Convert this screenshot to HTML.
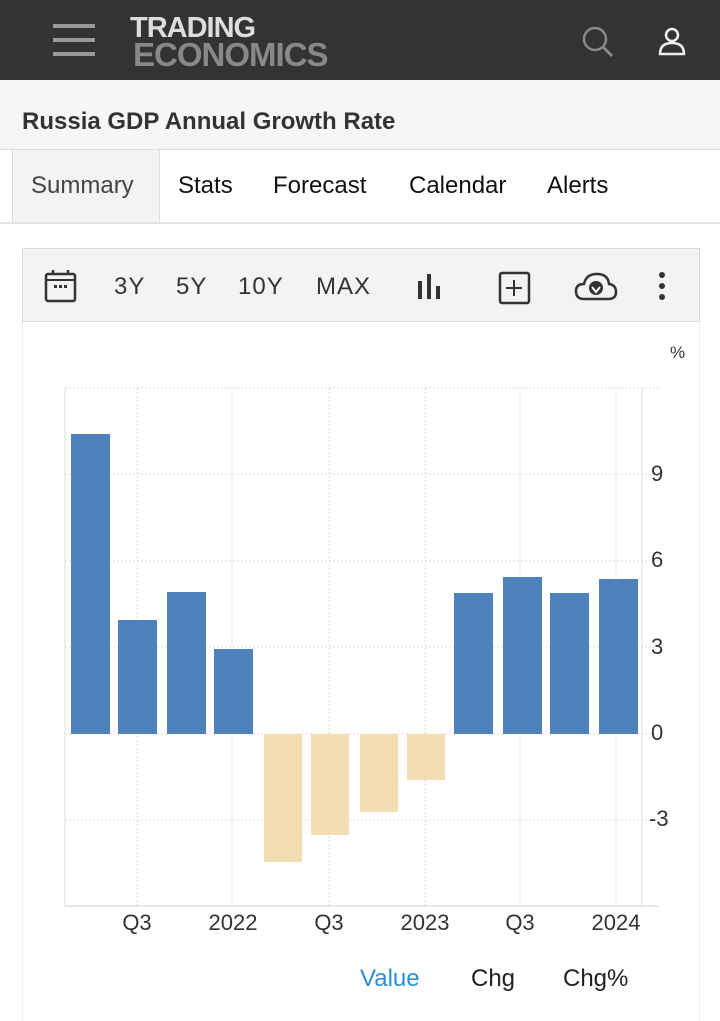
<!DOCTYPE html>
<html><head><style>
*{margin:0;padding:0;box-sizing:border-box}
body{width:720px;height:1021px;background:#fff;font-family:"Liberation Sans",sans-serif;position:relative;overflow:hidden;color:#222}
.hdr{position:absolute;left:0;top:0;width:720px;height:80px;background:#333}
.sub{position:absolute;left:0;top:80px;width:720px;height:70px;background:#f6f6f6;border-bottom:1px solid #ddd}
.tabs{position:absolute;left:0;top:150px;width:720px;height:74px;border-bottom:2px solid #e2e2e2}
.tab{position:absolute;top:0;height:72px;line-height:72px;font-size:24px;color:#111}
.tb{position:absolute;left:22px;top:248px;width:678px;height:74px;background:#f3f3f3;border:1px solid #ddd}
.tbt{position:absolute;top:24px;font-size:24px;color:#333;letter-spacing:1px}
.panel{position:absolute;left:22px;top:322px;width:678px;height:699px;border-left:1px solid #eee;border-right:1px solid #eee}
</style></head><body>
<div class="hdr">
 <div style="position:absolute;left:53px;top:24px;width:42px;height:4px;background:#999"></div>
 <div style="position:absolute;left:53px;top:38px;width:42px;height:4px;background:#999"></div>
 <div style="position:absolute;left:53px;top:52px;width:42px;height:4px;background:#999"></div>
 <div style="position:absolute;left:130px;top:13px;font-size:29px;font-weight:bold;color:#ddd;line-height:30px;letter-spacing:-1px">TRADING</div>
 <div style="position:absolute;left:133px;top:38px;font-size:33px;font-weight:bold;color:#888;line-height:34px;letter-spacing:-1px">ECONOMICS</div>
 <svg style="position:absolute;left:580px;top:24px" width="36" height="36"><circle cx="15" cy="15" r="11" fill="none" stroke="#888" stroke-width="2.5"/><line x1="23" y1="23" x2="32" y2="32" stroke="#888" stroke-width="3"/></svg>
 <svg style="position:absolute;left:655px;top:26px" width="34" height="34"><circle cx="17" cy="9" r="6" fill="none" stroke="#eee" stroke-width="2.5"/><path d="M5 28 Q5 17 17 17 Q29 17 29 28 Z" fill="none" stroke="#eee" stroke-width="2.5"/></svg>
</div>
<div class="sub"><div style="position:absolute;left:22px;top:28px;font-size:24px;font-weight:bold;color:#333">Russia GDP Annual Growth Rate</div></div>
<div class="tabs">
 <div class="tab" style="left:12px;width:148px;background:#f3f3f3;border-left:1px solid #ddd;border-right:1px solid #ddd;padding-left:18px;color:#444">Summary</div>
 <div class="tab" style="left:178px">Stats</div>
 <div class="tab" style="left:273px">Forecast</div>
 <div class="tab" style="left:409px">Calendar</div>
 <div class="tab" style="left:547px">Alerts</div>
</div>
<div class="tb">
 <svg style="position:absolute;left:21px;top:20px" width="34" height="34"><rect x="2" y="5" width="29" height="27" rx="2" fill="none" stroke="#333" stroke-width="2.5"/><line x1="2" y1="11" x2="31" y2="11" stroke="#333" stroke-width="2"/><line x1="9" y1="1" x2="9" y2="6" stroke="#333" stroke-width="2.5"/><line x1="24" y1="1" x2="24" y2="6" stroke="#333" stroke-width="2.5"/><rect x="10" y="16" width="3" height="3" fill="#333"/><rect x="15" y="16" width="3" height="3" fill="#333"/><rect x="20" y="16" width="3" height="3" fill="#333"/></svg>
 <div class="tbt" style="left:91px">3Y</div>
 <div class="tbt" style="left:153px">5Y</div>
 <div class="tbt" style="left:215px">10Y</div>
 <div class="tbt" style="left:293px">MAX</div>
 <svg style="position:absolute;left:394px;top:24px" width="26" height="28"><rect x="1" y="8" width="4" height="18" fill="#333"/><rect x="10" y="1" width="4" height="25" fill="#333"/><rect x="19" y="13" width="4" height="13" fill="#333"/></svg>
 <svg style="position:absolute;left:475px;top:22px" width="34" height="34"><rect x="2" y="2" width="29" height="30" rx="2" fill="none" stroke="#333" stroke-width="2.5"/><line x1="16" y1="9" x2="16" y2="25" stroke="#333" stroke-width="2"/><line x1="8" y1="17" x2="24" y2="17" stroke="#333" stroke-width="2"/></svg>
 <svg style="position:absolute;left:551px;top:22px" width="44" height="32"><path d="M10 28 Q2 28 2 20 Q2 13 10 13 Q12 3 23 3 Q34 3 35 13 Q42 14 42 21 Q42 28 34 28 Z" fill="none" stroke="#333" stroke-width="2.5"/><circle cx="22" cy="17" r="7" fill="#333"/><path d="M18 16 L22 21 L26 16" stroke="#fff" stroke-width="2" fill="none"/></svg>
 <svg style="position:absolute;left:634px;top:22px" width="10" height="30"><circle cx="5" cy="4" r="3" fill="#333"/><circle cx="5" cy="15" r="3" fill="#333"/><circle cx="5" cy="26" r="3" fill="#333"/></svg>
</div>
<div class="panel"></div>
<svg style="position:absolute;left:0;top:0" width="720" height="1021" font-family="Liberation Sans, sans-serif">
 <g stroke="#ddd" stroke-width="1" stroke-dasharray="2,2">
  <line x1="65" y1="388" x2="659" y2="388"/>
  <line x1="65" y1="474" x2="659" y2="474"/>
  <line x1="65" y1="561" x2="659" y2="561"/>
  <line x1="65" y1="647" x2="659" y2="647"/>
  <line x1="65" y1="734" x2="659" y2="734"/>
  <line x1="65" y1="820" x2="659" y2="820"/>
  <line x1="137" y1="388" x2="137" y2="906"/>
  <line x1="232" y1="388" x2="232" y2="906"/>
  <line x1="329" y1="388" x2="329" y2="906"/>
  <line x1="425" y1="388" x2="425" y2="906"/>
  <line x1="520" y1="388" x2="520" y2="906"/>
  <line x1="616" y1="388" x2="616" y2="906"/>
 </g>
 <line x1="65" y1="388" x2="65" y2="906" stroke="#ddd"/>
 <line x1="642" y1="388" x2="642" y2="906" stroke="#ddd"/>
 <line x1="65" y1="906" x2="659" y2="906" stroke="#ccc"/>
 <g fill="#4f81bd">
  <rect x="71" y="434" width="39" height="300"/>
  <rect x="118" y="620" width="39" height="114"/>
  <rect x="167" y="592" width="39" height="142"/>
  <rect x="214" y="649" width="39" height="85"/>
  <rect x="454" y="593" width="39" height="141"/>
  <rect x="503" y="577" width="39" height="157"/>
  <rect x="550" y="593" width="39" height="141"/>
  <rect x="599" y="579" width="39" height="155"/>
 </g>
 <g fill="#f3ddb3">
  <rect x="264" y="734" width="38" height="128"/>
  <rect x="311" y="734" width="38" height="101"/>
  <rect x="360" y="734" width="38" height="78"/>
  <rect x="407" y="734" width="38" height="46"/>
 </g>
 <g font-size="22" fill="#333">
  <text x="670" y="358" font-size="17">%</text>
  <text x="651" y="481">9</text>
  <text x="651" y="567">6</text>
  <text x="651" y="654">3</text>
  <text x="651" y="740">0</text>
  <text x="649" y="826">-3</text>
  <g text-anchor="middle">
  <text x="137" y="930">Q3</text>
  <text x="233" y="930">2022</text>
  <text x="329" y="930">Q3</text>
  <text x="425" y="930">2023</text>
  <text x="520" y="930">Q3</text>
  <text x="616" y="930">2024</text>
  </g>
 </g>
 <g font-size="24">
  <text x="360" y="986" fill="#2b8fd6">Value</text>
  <text x="471" y="986" fill="#222">Chg</text>
  <text x="563" y="986" fill="#222">Chg%</text>
 </g>
</svg>
</body></html>
